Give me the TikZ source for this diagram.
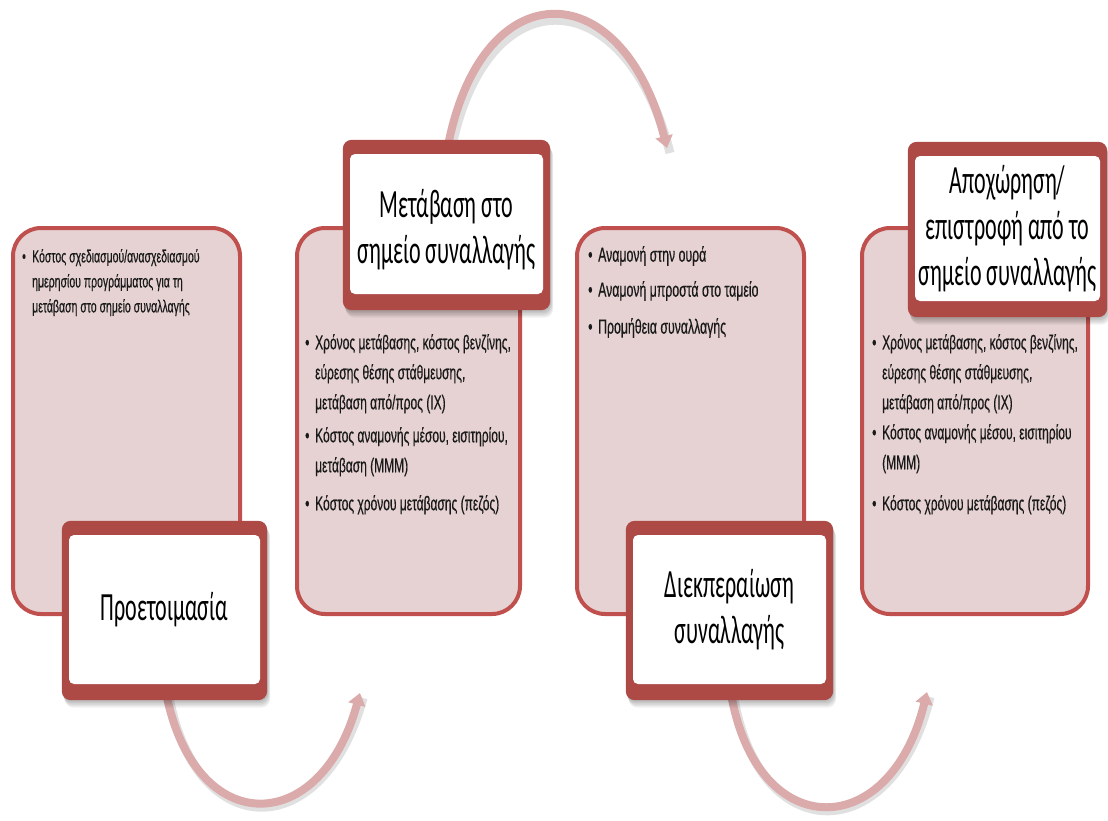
\documentclass[tikz,border=0pt]{standalone}
\usepackage{fontspec}
\usetikzlibrary{arrows.meta,calc}
\newfontfamily\lblfont[FakeStretch=0.55]{Carlito}
\newfontfamily\txtfont[FakeStretch=0.6,FakeBold=0.4]{Liberation Sans}
\definecolor{boxline}{HTML}{C0504D}
\definecolor{boxfill}{HTML}{E6D2D2}
\definecolor{lblband}{HTML}{AD4A46}
\definecolor{arccol}{HTML}{DBAAAA}
\pgfdeclarelayer{arcs}
\pgfdeclarelayer{boxes}
\pgfdeclarelayer{band}
\pgfsetlayers{arcs,boxes,band,main}
\newcommand\bl{\makebox[10pt][l]{•}}
\newcommand\ind{\hspace*{10pt}}
\begin{document}
\begin{tikzpicture}[x=1pt,y=-1pt,
  infobox/.style={draw=boxline, line width=4pt, fill=boxfill, rounded corners=28pt, inner sep=0pt},
  lblnode/.style={fill=white, rounded corners=5pt, inner sep=0pt, font=\lblfont\fontsize{40}{46}\selectfont, align=center, text=black},
  lbltext/.style={inner sep=0pt, font=\lblfont\fontsize{40}{46}\selectfont, align=center, text=black},
  itemtext/.style={font=\txtfont\fontsize{20}{30}\selectfont, align=left, anchor=north west, inner sep=0pt, text=black!90},
  arcline/.style={draw=arccol, line width=8pt, -{Triangle[width=17pt,length=12pt]}},
  arcshadow/.style={draw=black, opacity=0.12, line width=9pt},
  bandfill/.style={fill=lblband, rounded corners=9pt},
  shade/.style={fill=black, opacity=0.06, rounded corners=9pt}
]
\useasboundingbox (0,0) rectangle (1108,820);

% pink boxes
\begin{pgfonlayer}{boxes}
\node[infobox, minimum width=227pt, minimum height=386pt] (B1) at (126.5,421) {};
\node[infobox, minimum width=223pt, minimum height=386pt] (B2) at (408.5,421) {};
\node[infobox, minimum width=227pt, minimum height=386pt] (B3) at (690.5,421) {};
\node[infobox, minimum width=226pt, minimum height=386pt] (B4) at (975,421) {};
\end{pgfonlayer}

% label nodes
\node[lblnode, minimum width=191pt, minimum height=149pt] (L1) at (164.5,609.5) {Προετοιμασία};
\node[lblnode, minimum width=193pt, minimum height=140pt] (L2) at (446.5,224) {};
\node[lbltext] (L2t) at (446.5,230) {Μετάβαση στο\\σημείο συναλλαγής};
\node[lblnode, minimum width=193pt, minimum height=149pt] (L3) at (729.5,609.5) {Διεκπεραίωση\\συναλλαγής};
\node[lblnode, minimum width=185pt, minimum height=145pt] (L4) at (1007.5,228.5) {Αποχώρηση/\\επιστροφή από το\\σημείο συναλλαγής};

\begin{pgfonlayer}{band}
\foreach \n in {L1,L2,L3,L4}{
  \foreach \k in {1,...,5}{
    \fill[shade] ($(\n.north west)+(-7+\k*0.6,-14+\k*1.5)$) rectangle ($(\n.south east)+(7+\k*0.6,16+\k*1.5)$);
  }
  \fill[bandfill] ($(\n.north west)+(-7,-14)$) rectangle ($(\n.south east)+(7,16)$);
}
\end{pgfonlayer}

% item texts
\node[itemtext, font=\txtfont\fontsize{17.5}{25}\selectfont] (I11) at (22,249) {\bl Κόστος σχεδιασμού/ανασχεδιασμού\\\ind ημερησίου προγράμματος για τη\\\ind μετάβαση στο σημείο συναλλαγής};

\node[itemtext] (I21) at (305,334) {\bl Χρόνος μετάβασης, κόστος βενζίνης,\\\ind εύρεσης θέσης στάθμευσης,\\\ind μετάβαση από/προς (ΙΧ)};
\node[itemtext] (I22) at (305,427) {\bl Κόστος αναμονής μέσου, εισιτηρίου,\\\ind μετάβαση (ΜΜΜ)};
\node[itemtext] (I23) at (305,495) {\bl Κόστος χρόνου μετάβασης (πεζός)};

\node[itemtext, font=\txtfont\fontsize{20.5}{30}\selectfont] (I31) at (588,246) {\bl Αναμονή στην ουρά};
\node[itemtext, font=\txtfont\fontsize{20.5}{30}\selectfont] (I32) at (588,281) {\bl Αναμονή μπροστά στο ταμείο};
\node[itemtext, font=\txtfont\fontsize{20.5}{30}\selectfont] (I33) at (588,318) {\bl Προμήθεια συναλλαγής};

\node[itemtext] (I41) at (872,334) {\bl Χρόνος μετάβασης, κόστος βενζίνης,\\\ind εύρεσης θέσης στάθμευσης,\\\ind μετάβαση από/προς (ΙΧ)};
\node[itemtext] (I42) at (872,424) {\bl Κόστος αναμονής μέσου, εισιτηρίου\\\ind (ΜΜΜ)};
\node[itemtext] (I43) at (872,495) {\bl Κόστος χρόνου μετάβασης (πεζός)};

% arcs
\coordinate (T1) at (360,693);
\coordinate (T2) at (667,148);
\coordinate (T3) at (927,692);
\begin{pgfonlayer}{arcs}
\draw[arcshadow] ([xshift=3pt,yshift=-5pt]L1.south) .. controls (193,845) and (323,845) .. ([xshift=3pt,yshift=-5pt]T1);
\draw[arcline] (L1.south) .. controls (190,840) and (320,840) .. (T1);
\draw[arcshadow] ([xshift=3pt,yshift=-5pt]L2.north) .. controls (481,-25) and (625,-25) .. ([xshift=3pt,yshift=-5pt]T2);
\draw[arcline] (L2.north) .. controls (478,-30) and (622,-30) .. (T2);
\draw[arcshadow] ([xshift=3pt,yshift=-5pt]L3.south) .. controls (755,850) and (893,850) .. ([xshift=3pt,yshift=-5pt]T3);
\draw[arcline] (L3.south) .. controls (752,845) and (890,845) .. (T3);
\end{pgfonlayer}
\end{tikzpicture}
\end{document}
